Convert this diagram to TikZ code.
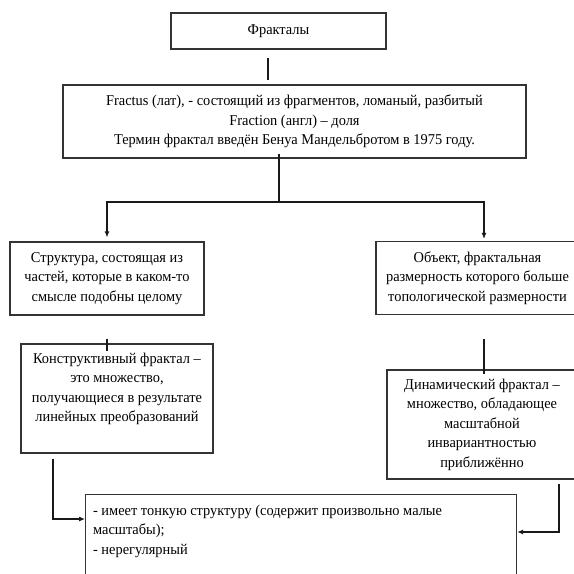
\documentclass[tikz,border=0pt]{standalone}
\usepackage{fontspec}
\setmainfont{Liberation Serif}[FakeStretch=0.96]
\usetikzlibrary{arrows.meta}

\begin{document}
\begin{tikzpicture}[x=1pt,y=-1pt,
  box/.style={draw=black!80, line width=1.2pt, align=center, inner sep=0pt},
  link/.style={draw=black!90, line width=1.1pt},
  tip/.style={-{Latex[length=6pt,width=5pt]}},
  font=\fontsize{15}{19.5}\selectfont]
\def\rowh{73}
\def\lowh{109}

\useasboundingbox (0,0) rectangle (574,574);

\node[box, minimum width=215, minimum height=36] (top) at (278.5,31) {Фракталы};

\node[box, minimum width=463, minimum height=\rowh] (frac) at (294.5,121.5)
  {Fractus (лат), - состоящий из фрагментов, ломаный, разбитый\\Fraction (англ) – доля\\Термин фрактал введён Бенуа Мандельбротом в 1975 году.};

\node[box, minimum width=194, minimum height=\rowh] (struct) at (107,278.5)
  {Структура, состоящая из\\частей, которые в каком-то\\смысле подобны целому};
\node[box, minimum width=203, minimum height=\rowh] (obj) at (477.5,278)
  {Объект, фрактальная\\размерность которого больше\\топологической размерности};

\node[box, minimum width=192, minimum height=\lowh] (konstr) at (117,398.5)
  {\parbox[c][101pt][t]{186pt}{\vspace*{5pt}\centering Конструктивный фрактал –\\это множество,\\получающиеся в результате\\линейных преобразований}};
\node[box, minimum width=190, minimum height=\lowh] (dyn) at (482,424.5)
  {Динамический фрактал –\\множество, обладающее\\масштабной\\инвариантностью\\приближённо};

\node[box, anchor=north west, minimum width=431, minimum height=116] (bottom) at (85,494)
  {\parbox[c][108pt][t]{416pt}{\vspace*{6pt}\raggedright - имеет тонкую структуру (содержит произвольно малые\\масштабы);\\- нерегулярный}};

% connectors
\coordinate (split) at (279,202);
\draw[link, shorten <=8pt, shorten >=4pt] ([xshift=-10.5]top.south) -- ([xshift=-10.5]top.south |- frac.north);
\draw[link, shorten <=-5pt] (frac.south -| split) -- (split);
\draw[link, tip, shorten >=4pt] (split) -| (struct.north);
\draw[link, tip, shorten >=2pt] (split) -| ([xshift=6.5]obj.north);
\draw[link, shorten <=23pt, shorten >=-8pt] (struct.south) -- (konstr.north -| struct.south);
\draw[link, shorten <=24pt, shorten >=-5pt] ([xshift=6.5]obj.south) -- ([xshift=6.5]obj.south |- dyn.north);
\draw[link, tip, shorten <=5pt] ([xshift=-64]konstr.south) |- ([yshift=-25]bottom.north west);
\draw[link, tip, shorten <=4pt] ([xshift=77]dyn.south) |- ([yshift=-38]bottom.north east);
\end{tikzpicture}
\end{document}
